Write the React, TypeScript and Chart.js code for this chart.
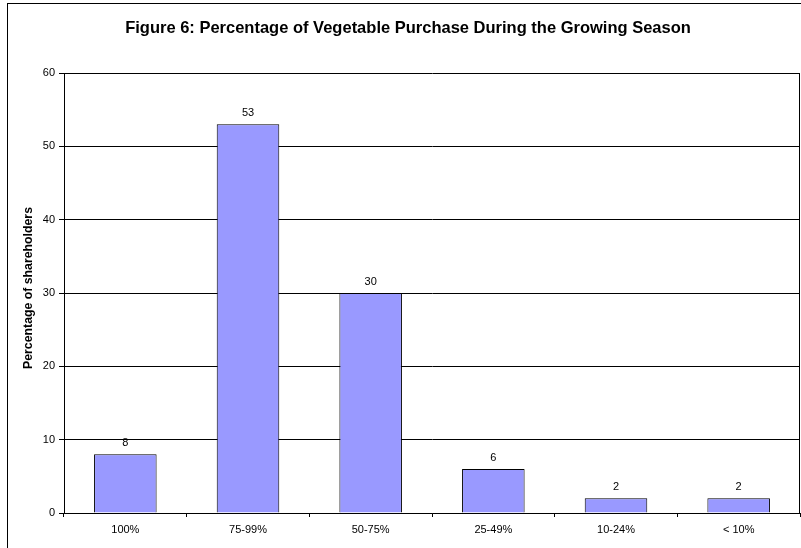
import React, { useEffect, useRef } from "react";
import { Chart, registerables } from "chart.js";

Chart.register(...registerables);

const categories = ["100%", "75-99%", "50-75%", "25-49%", "10-24%", "< 10%"];
const values = [8, 53, 30, 6, 2, 2];
const chartTitle = "Figure 6: Percentage of Vegetable Purchase During the Growing Season";
const yAxisTitle = "Percentage of shareholders";
const yMin = 0;
const yMax = 60;
const yStep = 10;

const FONT = "'Liberation Sans', Arial, sans-serif";

const decorPlugin = {
  id: "decor",
  beforeDraw(chart: any) {
    const ctx = chart.ctx;
    ctx.save();
    ctx.fillStyle = "#ffffff";
    ctx.fillRect(0, 0, chart.width, chart.height);
    ctx.strokeStyle = "#000000";
    ctx.lineWidth = 1;
    ctx.strokeRect(7.5, 3.5, chart.width + 20, chart.height + 20);
    ctx.restore();
  },
  afterDraw(chart: any) {
    const ctx = chart.ctx;
    const a = chart.chartArea;
    ctx.save();
    // right border of plot
    ctx.strokeStyle = "#000000";
    ctx.lineWidth = 1;
    ctx.beginPath();
    ctx.moveTo(Math.round(a.right) - 0.5, a.top);
    ctx.lineTo(Math.round(a.right) - 0.5, a.bottom);
    ctx.stroke();
    // title
    ctx.fillStyle = "#000000";
    ctx.font = "bold 16.5px " + FONT;
    ctx.textAlign = "center";
    ctx.textBaseline = "middle";
    ctx.fillText(chartTitle, 408, 28.5);
    // y axis title
    ctx.save();
    ctx.translate(28.5, 288);
    ctx.rotate(-Math.PI / 2);
    ctx.font = "bold 12.3px " + FONT;
    ctx.fillText(yAxisTitle, 0, 0);
    ctx.restore();
    // value labels
    const meta = chart.getDatasetMeta(0);
    ctx.font = "11px " + FONT;
    meta.data.forEach((bar: any, i: number) => {
      ctx.fillText(String(values[i]), bar.x, bar.y - 11);
    });
    ctx.restore();
  },
};

export default function App() {
  const ref = useRef<HTMLCanvasElement>(null);
  useEffect(() => {
    document.body.style.margin = "0";
    const chart = new Chart(ref.current!, {
      type: "bar",
      data: {
        labels: categories,
        datasets: [
          {
            data: values,
            backgroundColor: "#9999ff",
            borderColor: "#000000",
            borderWidth: 1,
            barPercentage: 0.51,
            categoryPercentage: 1,
          },
        ],
      },
      plugins: [decorPlugin],
      options: {
        animation: false,
        responsive: false,
        devicePixelRatio: 1,
        layout: { padding: { top: 73, right: 1, left: 0, bottom: 0 } },
        plugins: {
          legend: { display: false },
          title: { display: false },
          tooltip: { enabled: false },
        },
        scales: {
          x: {
            grid: {
              display: true,
              drawOnChartArea: false,
              offset: true,
              tickLength: 4,
              color: "#000000",
            },
            border: { color: "#000000", width: 1 },
            ticks: {
              color: "#000000",
              font: { family: FONT, size: 11 },
              padding: 6,
              maxRotation: 0,
            },
            afterFit(scale: any) {
              scale.height = 35;
            },
          },
          y: {
            min: yMin,
            max: yMax,
            grid: {
              color: "#000000",
              tickLength: 5,
            },
            border: { color: "#000000", width: 1 },
            ticks: {
              stepSize: yStep,
              color: "#000000",
              font: { family: FONT, size: 11 },
              padding: 4,
            },
            afterFit(scale: any) {
              scale.width = 64;
            },
          },
        },
      },
    });
    return () => chart.destroy();
  }, []);
  return <canvas ref={ref} width={801} height={548} style={{ display: "block" }} />;
}
